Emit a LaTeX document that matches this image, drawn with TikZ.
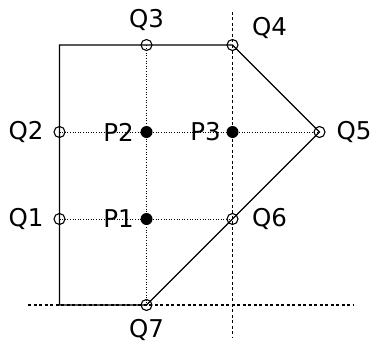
\documentclass[tikz,border=0pt]{standalone}
\usepackage{fontspec}
\setmainfont{DejaVu Sans}
\begin{document}
\begin{tikzpicture}[x=1pt,y=-1pt,
  open/.style={circle,draw,inner sep=0pt,minimum size=11pt,line width=1.1pt},
  full/.style={circle,fill=black,inner sep=0pt,minimum size=12pt},
  lbl/.style={font=\fontsize{24.5}{24.5}\selectfont,inner sep=0pt},
  dotln/.style={line width=0.9pt,dash pattern=on 1pt off 1.6pt},
  dashln/.style={line width=1.4pt,dash pattern=on 3pt off 2.5pt},
  solid line/.style={line width=1.3pt}]
\useasboundingbox (0,0) rectangle (371,345);
\coordinate (C) at (59.5,45);
\coordinate (D) at (59.5,305);
\coordinate (VT) at (232.5,12);
\coordinate (VB) at (232.5,338);
\coordinate (HL) at (28,305);
\coordinate (HR) at (353,305);
% dotted grid
\draw[dotln] (146.5,45) -- (146.5,305);
\draw[dotln] (59.5,132) -- (319.5,132);
\draw[dotln] (59.5,219) -- (232.5,219);
% dashed lines
\draw[dashln] (VT) -- (VB);
\draw[dashln] (HL) -- (HR);
% polygon
\draw[solid line] (D) -- (C) -- (232.5,45) -- (319.5,132) -- (146.5,305) -- cycle;
% points
\node[open] (Q1) at (59.5,219) {};
\node[open] (Q2) at (59.5,132) {};
\node[open] (Q3) at (146.5,45) {};
\node[open] (Q4) at (232.5,45) {};
\node[open] (Q5) at (319.5,132) {};
\node[open] (Q6) at (232.5,219) {};
\node[open] (Q7) at (146.5,305) {};
\node[full] (P1) at (146.5,219) {};
\node[full] (P2) at (146.5,132) {};
\node[full] (P3) at (232.5,132) {};
% labels
\node[lbl] (lQ1) at (26,219) {Q1};
\node[lbl] (lQ2) at (26,132) {Q2};
\node[lbl] (lQ3) at (146.5,20) {Q3};
\node[lbl] (lQ4) at (269.5,28) {Q4};
\node[lbl] (lQ5) at (354,132) {Q5};
\node[lbl] (lQ6) at (269.5,219) {Q6};
\node[lbl] (lQ7) at (146.5,330) {Q7};
\node[lbl] (lP1) at (118.5,219) {P1};
\node[lbl] (lP2) at (118.5,132) {P2};
\node[lbl] (lP3) at (205.5,132) {P3};
\end{tikzpicture}
\end{document}
